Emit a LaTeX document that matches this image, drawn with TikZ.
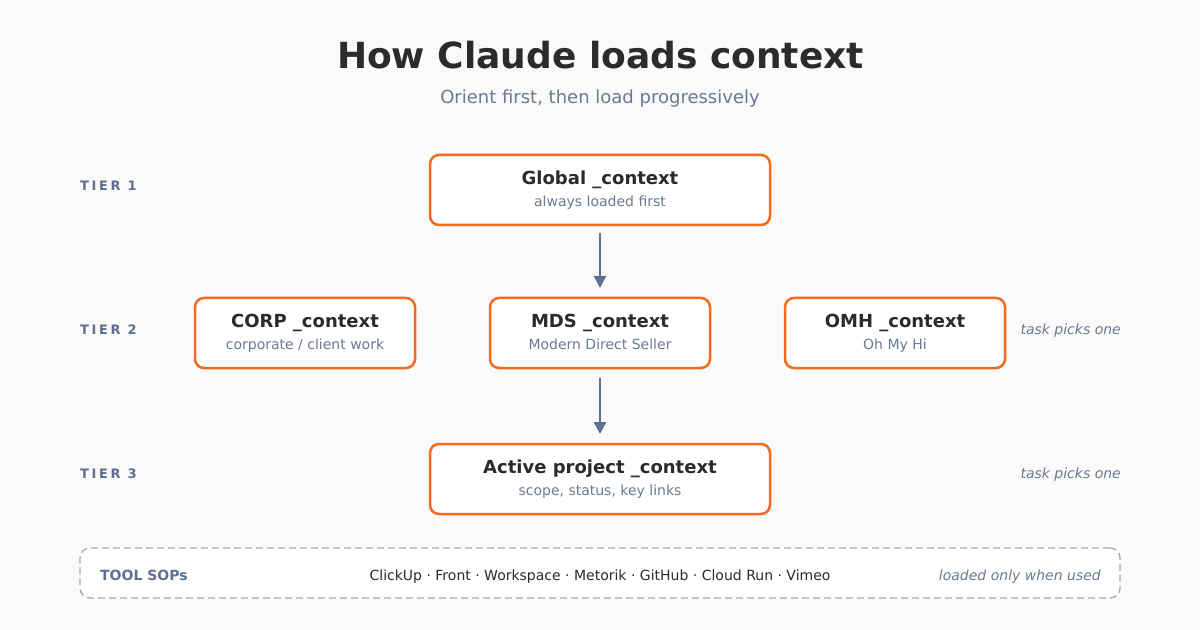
\documentclass[tikz,border=0pt]{standalone}
\usepackage{fontspec}
\setmainfont{DejaVu Sans}
\newfontfamily\tierfont[LetterSpace=20]{DejaVu Sans}
\usetikzlibrary{arrows.meta}
\definecolor{bgc}{HTML}{FAFAFA}
\definecolor{ink}{HTML}{2B2B2B}
\definecolor{slate}{HTML}{5F6F8F}
\definecolor{muted}{HTML}{6B7A90}
\definecolor{orangec}{HTML}{F26B21}
\definecolor{dashc}{HTML}{A8A8A8}
\newcommand{\fs}[1]{\fontsize{#1bp}{#1bp}\selectfont}
\tikzset{
  x=1bp,y=-1bp,
  ctxbox/.style={draw=orangec,line width=2.5bp,fill=white,rounded corners=9bp,inner sep=0pt,outer sep=0pt},
  boxtitle/.style={anchor=base,inner sep=0pt,text=ink,font=\fs{18}\bfseries},
  boxsub/.style={anchor=base,inner sep=0pt,text=muted,font=\fs{14}},
  tierlabel/.style={anchor=base west,inner sep=0pt,text=slate,font=\fs{13}\tierfont\bfseries},
  sidenote/.style={anchor=base east,inner sep=0pt,text=muted,font=\fs{14}\itshape},
  flow/.style={draw=slate,line width=2.5bp,-{Triangle[length=12bp,width=12bp]},shorten >=10bp},
}
\begin{document}
\begin{tikzpicture}
\useasboundingbox (0,0) rectangle (1200,630);
\fill[bgc] (0,0) rectangle (1200,630);
\node[anchor=base,inner sep=0pt,text=ink,font=\fs{36}\bfseries] (title) at (600.5,69) {How Claude loads context};
\node[anchor=base,inner sep=0pt,text=muted,font=\fs{18}] (subtitle) at (600,104) {Orient first, then load progressively};
\node[tierlabel] (t1) at (80,191) {TIER 1};
\node[tierlabel] (t2) at (80,335) {TIER 2};
\node[tierlabel] (t3) at (80,478) {TIER 3};
\node[ctxbox,minimum width=340bp,minimum height=70bp] (global) at (600,190) {};
\node[ctxbox,minimum width=220bp,minimum height=70bp] (corp) at (305,333) {};
\node[ctxbox,minimum width=220bp,minimum height=70bp] (mds) at (600,333) {};
\node[ctxbox,minimum width=220bp,minimum height=70bp] (omh) at (895,333) {};
\node[ctxbox,minimum width=340bp,minimum height=70bp] (active) at (600,479) {};
\node[boxtitle] (globalt) at (600,185) {Global \_context};
\node[boxsub] (globals) at (600,207) {always loaded first};
\node[boxtitle] (corpt) at (305,328) {CORP \_context};
\node[boxsub] (corps) at (305,350) {corporate / client work};
\node[boxtitle] (mdst) at (600,328) {MDS \_context};
\node[boxsub] (mdss) at (600,350) {Modern Direct Seller};
\node[boxtitle] (omht) at (895,328) {OMH \_context};
\node[boxsub] (omhs) at (895,350) {Oh My Hi};
\node[boxtitle] (activet) at (600,473) {Active project \_context};
\node[boxsub] (actives) at (600,495) {scope, status, key links};
\node[sidenote] (n2) at (1121,335) {task picks one};
\node[sidenote] (n3) at (1121,478) {task picks one};
\draw[flow,shorten <=8bp] (global) -- (mds);
\draw[flow,shorten <=10bp] (mds) -- (active);
\node[draw=dashc,line width=1.3bp,fill=white,dash pattern=on 7bp off 4bp,rounded corners=10bp,minimum width=1040bp,minimum height=50bp,inner sep=0pt,outer sep=0pt] (tools) at (600,573) {};
\node[anchor=base west,inner sep=0pt,text=slate,font=\fs{14}\bfseries] (toolsl) at (100,580) {TOOL SOPs};
\node[anchor=base,inner sep=0pt,text=ink,font=\fs{14}] (toolsm) at (600,580) {ClickUp · Front · Workspace · Metorik · GitHub · Cloud Run · Vimeo};
\node[sidenote,anchor=base east] (toolsr) at (1101,580) {loaded only when used};
\end{tikzpicture}
\end{document}
